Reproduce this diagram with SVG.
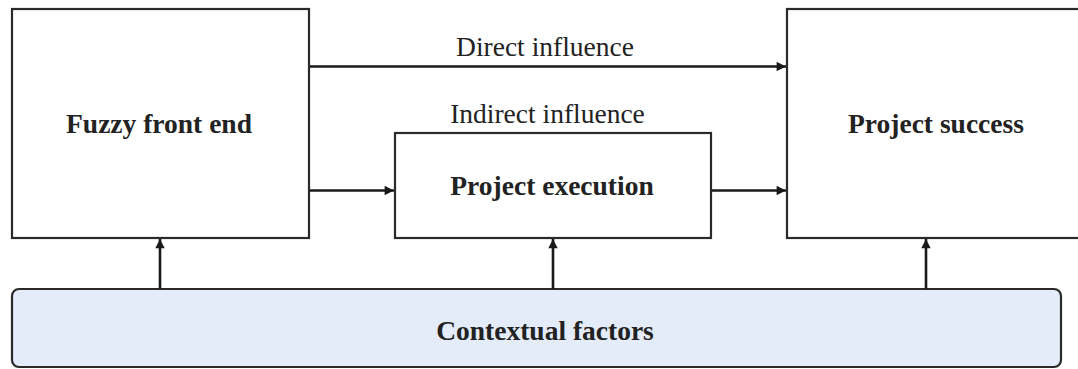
<svg xmlns="http://www.w3.org/2000/svg" width="1078" height="369" viewBox="0 0 1078 369">
  <style>
    .box { fill: #ffffff; stroke: #2a2a2a; stroke-width: 2.2; }
    .ctx { fill: #e4ecf9; stroke: #2a2a2a; stroke-width: 2.2; }
    .lbl { font-family: "Liberation Serif", "Times New Roman", serif; font-size: 27.5px; fill: #222; }
    .bold { font-weight: bold; }
    .edge { stroke: #1a1a1a; stroke-width: 2.6; fill: none; marker-end: url(#arrow); }
  </style>
  <defs>
    <marker id="arrow" viewBox="0 0 10 10" refX="10" refY="5" markerWidth="4" markerHeight="3.6" orient="auto" markerUnits="strokeWidth">
      <path d="M0,0 L10,5 L0,10 z" fill="#1a1a1a"/>
    </marker>
  </defs>
  <rect width="1078" height="369" fill="#ffffff"/>

  <g id="fuzzy-front-end">
    <rect class="box" x="12" y="9" width="297" height="229"/>
    <text class="lbl bold" x="159" y="133" text-anchor="middle">Fuzzy front end</text>
  </g>

  <g id="project-execution">
    <rect class="box" x="395" y="133" width="316" height="105"/>
    <text class="lbl bold" x="552" y="195" text-anchor="middle">Project execution</text>
  </g>

  <g id="project-success">
    <rect class="box" x="787" y="9" width="310" height="229"/>
    <text class="lbl bold" x="936" y="133" text-anchor="middle">Project success</text>
  </g>

  <g id="contextual-factors">
    <rect class="ctx" x="12" y="289" width="1049" height="78" rx="7" ry="7"/>
    <text class="lbl bold" x="545" y="340" text-anchor="middle">Contextual factors</text>
  </g>

  <g id="connectors">
    <line class="edge" x1="310" y1="66.5" x2="786" y2="66.5"/>
    <line class="edge" x1="310" y1="190.5" x2="394" y2="190.5"/>
    <line class="edge" x1="712" y1="190.5" x2="786" y2="190.5"/>
    <line class="edge" x1="160" y1="289" x2="160" y2="239"/>
    <line class="edge" x1="553" y1="289" x2="553" y2="239"/>
    <line class="edge" x1="926" y1="289" x2="926" y2="239"/>
    <text class="lbl" x="545" y="56" text-anchor="middle">Direct influence</text>
    <text class="lbl" x="547.5" y="123" text-anchor="middle">Indirect influence</text>
  </g>
</svg>
